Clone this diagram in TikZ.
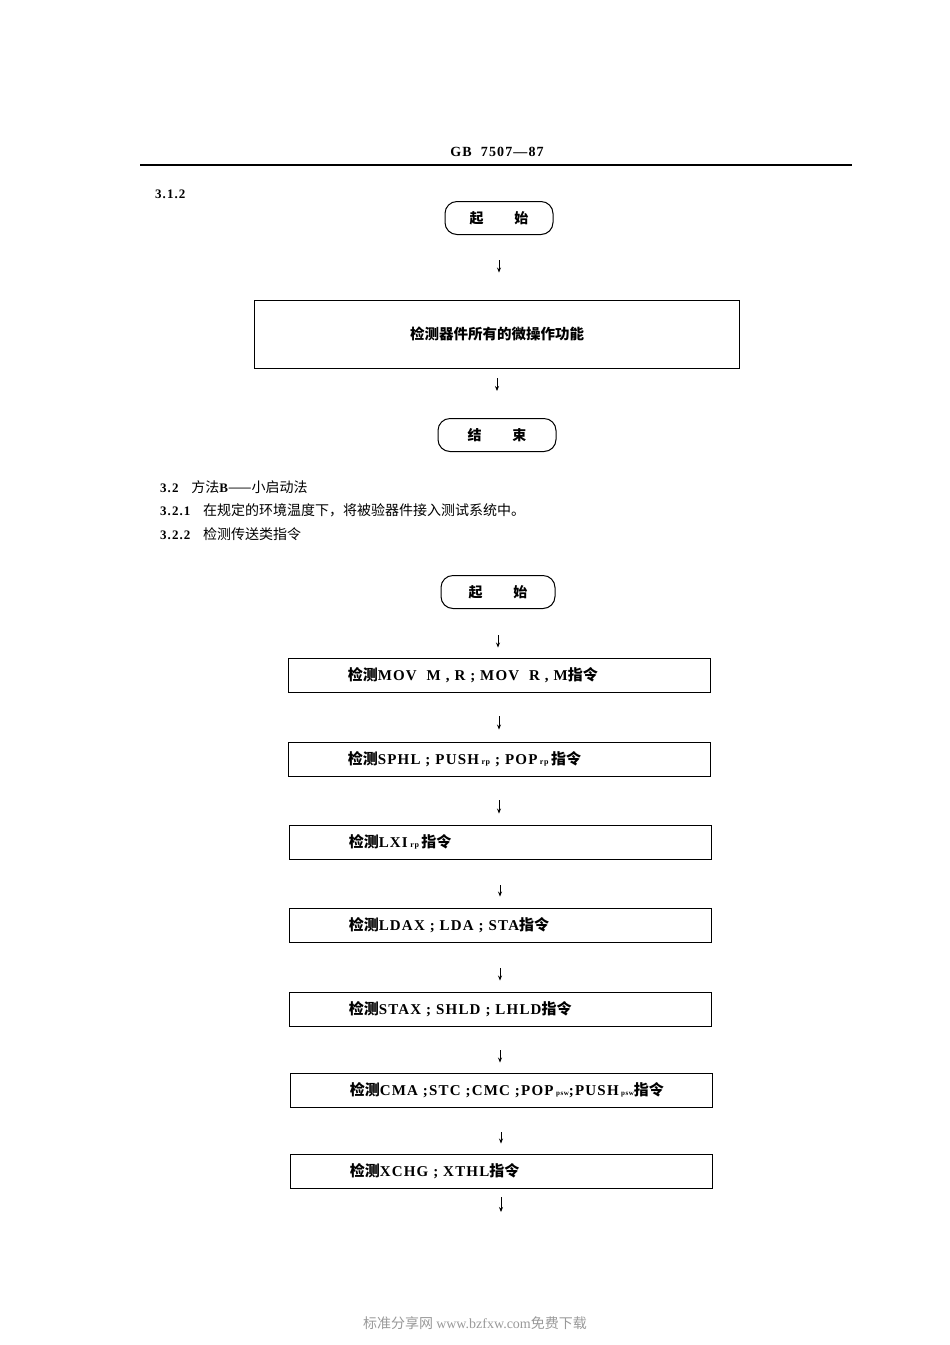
\documentclass[tikz,border=0pt]{standalone}
\usepackage{fontspec}
\setmainfont{Liberation Serif}
\newfontfamily\cjk{Noto Sans CJK SC}
\newfontfamily\wide[LetterSpace=8]{Liberation Serif}
\usetikzlibrary{arrows.meta}
\begin{document}
\begin{tikzpicture}[x=1pt,y=-1pt,
  term/.style={draw,line width=1pt,rounded corners=12pt,minimum height=33pt,font=\cjk\bfseries\fontsize{14}{14}\selectfont},
  bigbox/.style={draw,line width=0.9pt,minimum width=485pt,minimum height=68pt,font=\cjk\bfseries\fontsize{14.5}{14}\selectfont},
  stepbox/.style={draw,line width=0.9pt,minimum width=422pt,minimum height=34pt,inner sep=0pt},
  steptext/.style={anchor=west,inner sep=0pt,font=\wide\bfseries\fontsize{15}{15}\selectfont},
  arr/.style={-{Stealth[length=5pt,width=4pt]},line width=0.8pt},
  txt/.style={anchor=west,inner sep=0pt,font=\fontsize{13}{14}\selectfont}]
\useasboundingbox (0,0) rectangle (950,1345);
\node[font=\wide\bfseries\fontsize{14}{14}\selectfont] (hdr) at (497,152) {GB\ \ 7507—87};
\coordinate (hl) at (140,165); \coordinate (hr) at (852,165);
\draw[line width=1.4pt] (hl) -- (hr);
\node[txt,font=\wide\bfseries\fontsize{13}{13}\selectfont] (s312) at (155,194) {3.1.2};
\node[term,minimum width=108pt] (st1) at (499,218) {起\hspace{2.2em}始};
\node[bigbox] (b0) at (497,334) {检测器件所有的微操作功能};
\node[term,minimum width=118pt] (en1) at (497,435) {结\hspace{2.2em}束};
\draw[arr,shorten <=25pt,shorten >=27pt] (st1) -- (st1|-b0.north);
\draw[arr,shorten <=10pt,shorten >=27pt] (b0.south) -- (b0.south|-en1.north);
\node[txt] (t1) at (160,487) {\wide\bfseries\fontsize{13}{13}\selectfont 3.2\ \ \ {\cjk\mdseries\fontsize{14}{14}\selectfont 方法}B{\cjk\mdseries\fontsize{14}{14}\selectfont ——小启动法}};
\node[txt] (t2) at (160,510) {\wide\bfseries\fontsize{13}{13}\selectfont 3.2.1\ \ \ {\cjk\mdseries\fontsize{14}{14}\selectfont 在规定的环境温度下，将被验器件接入测试系统中。}};
\node[txt] (t3) at (160,534) {\wide\bfseries\fontsize{13}{13}\selectfont 3.2.2\ \ \ {\cjk\mdseries\fontsize{14}{14}\selectfont 检测传送类指令}};
\node[term,minimum width=114pt] (st2) at (498,592) {起\hspace{2.2em}始};
\node[stepbox] (c1) at (499,675) {};
\node[stepbox] (c2) at (499,759) {};
\node[stepbox] (c3) at (500,842) {};
\node[stepbox] (c4) at (500,925) {};
\node[stepbox] (c5) at (500,1009) {};
\node[stepbox] (c6) at (501,1090) {};
\node[stepbox] (c7) at (501,1171) {};
\node[steptext] (c1t) at ([xshift=60pt]c1.west) {{\cjk 检测}MOV\ \ M , R ; MOV\ \ R , M{\cjk 指令}};
\node[steptext] (c2t) at ([xshift=60pt]c2.west) {{\cjk 检测}SPHL ; PUSH\,{\fontsize{8}{8}\selectfont rp}\ ; POP\,{\fontsize{8}{8}\selectfont rp}\,{\cjk 指令}};
\node[steptext] (c3t) at ([xshift=60pt]c3.west) {{\cjk 检测}LXI\,{\fontsize{8}{8}\selectfont rp}\,{\cjk 指令}};
\node[steptext] (c4t) at ([xshift=60pt]c4.west) {{\cjk 检测}LDAX ; LDA ; STA{\cjk 指令}};
\node[steptext] (c5t) at ([xshift=60pt]c5.west) {{\cjk 检测}STAX ; SHLD ; LHLD{\cjk 指令}};
\node[steptext] (c6t) at ([xshift=60pt]c6.west) {{\cjk 检测}CMA ;STC ;CMC ;POP\,{\fontsize{7}{7}\selectfont psw};PUSH\,{\fontsize{7}{7}\selectfont psw}{\cjk 指令}};
\node[steptext] (c7t) at ([xshift=60pt]c7.west) {{\cjk 检测}XCHG ; XTHL{\cjk 指令}};
\coordinate (endc) at (501,1212);
\draw[arr,shorten <=26pt,shorten >=10pt] (st2) -- (st2|-c1.north);
\draw[arr,shorten <=24pt,shorten >=12pt] (c1.south) -- (c1.south|-c2.north);
\draw[arr,shorten <=24pt,shorten >=11pt] (c2.south) -- (c2.south|-c3.north);
\draw[arr,shorten <=26pt,shorten >=11pt] (c3.south) -- (c3.south|-c4.north);
\draw[arr,shorten <=26pt,shorten >=11pt] (c4.south) -- (c4.south|-c5.north);
\draw[arr,shorten <=24pt,shorten >=10pt] (c5.south) -- (c5.south|-c6.north);
\draw[arr,shorten <=25pt,shorten >=10pt] (c6.south) -- (c6.south|-c7.north);
\draw[arr,shorten <=9pt] (c7.south) -- (endc);
\node[font=\cjk\fontsize{14}{14}\selectfont,text=black!40] (wm) at (475,1323) {标准分享网 {\rmfamily www.bzfxw.com}免费下载};
\end{tikzpicture}
\end{document}
